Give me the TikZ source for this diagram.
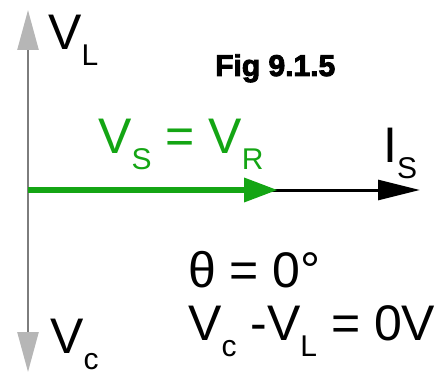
\documentclass[tikz,border=0pt]{standalone}
\usepackage{fontspec}
\setmainfont{Liberation Sans}
\newfontfamily\figfont[FakeBold=3]{Liberation Sans Bold}
\usetikzlibrary{arrows.meta,positioning}
\definecolor{PhasorGreen}{RGB}{20,165,20}
\definecolor{AxisGray}{RGB}{125,125,125}
\definecolor{HeadGray}{RGB}{182,182,182}
\newcommand{\phsub}[2]{#1\raisebox{-16pt}{\fontsize{30}{30}\selectfont #2}}

\begin{document}
\begin{tikzpicture}[x=1pt, y=1pt,
  lbl/.style={inner sep=0pt, anchor=base west, font=\fontsize{50}{50}\selectfont},
  axis/.style={AxisGray, line width=2.5pt, -{Triangle[length=40pt, width=21pt, color=HeadGray]}}]
  \useasboundingbox (0,0) rectangle (438,378);
  \coordinate (O) at (28,188);
  \coordinate (top) at (28,368);
  \coordinate (bot) at (28,6);
  \coordinate (vr) at (278,188);
  \coordinate (is) at (420,188);

  \draw[axis] (O) -- (top);
  \draw[axis] (O) -- (bot);
  \draw[line width=3pt, -{Triangle[length=42pt, width=20pt]}] (O) -- (is);
  \draw[PhasorGreen, line width=6.5pt, -{Triangle[length=34pt, width=23pt]}] (O) -- (vr);

  \node[lbl] (vl) at (48,328) {\phsub{V}{L}};
  \node[inner sep=0pt, anchor=base west, font=\fontsize{30}{30}\figfont] (fig) at (215,302) {Fig 9.1.5};
  \node[lbl, PhasorGreen] (vsvr) at (98,225) {\phsub{V}{S} = \phsub{V}{R}};
  \node[lbl] (islbl) at (383,216) {\phsub{I}{S}};
  \node[lbl] (theta) at (188,91) {θ = 0°};
  \node[lbl] (diff) at (188,38) {\phsub{V}{c} -\phsub{V}{L} = 0V};
  \node[lbl] (vc) at (50,25) {\phsub{V}{c}};
\end{tikzpicture}
\end{document}
